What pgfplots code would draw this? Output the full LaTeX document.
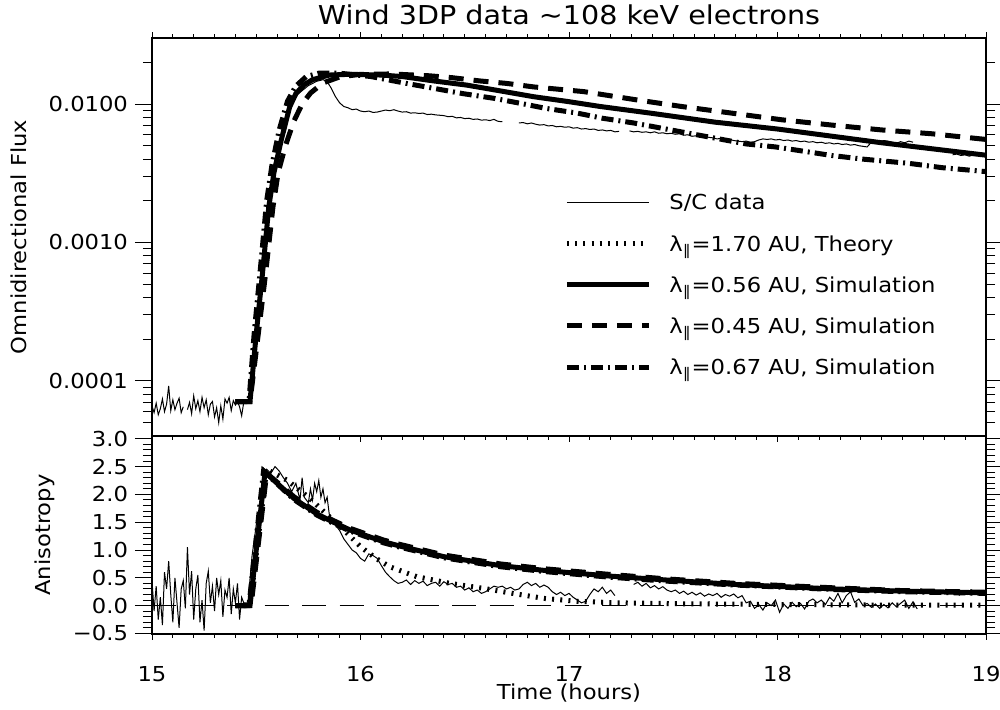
\documentclass[border=0pt]{standalone}
\usepackage{fontspec}
\setmainfont{DejaVu Sans}[FakeStretch=1.1]
\usepackage{pgfplots}
\usepackage{pgfplotstable}
\pgfplotsset{compat=1.18}

\newcommand{\lam}{λ\textsubscript{∥}}
\newcommand{\fs}{\fontsize{10.3}{12}\selectfont}

% ---------------- top panel: omnidirectional flux ----------------
\pgfplotstableread{
x y
15.00 6.6e-5
15.01 5.9e-5
15.02 6.9e-5
15.03 5.7e-5
15.04 6.3e-5
15.05 7.4e-5
15.06 6.0e-5
15.07 6.8e-5
15.08 9.2e-5
15.09 6.1e-5
15.10 7.3e-5
15.11 6.2e-5
15.12 6.9e-5
15.13 7.5e-5
15.14 5.9e-5
15.15 6.5e-5
15.16 nan
15.17 6.2e-5
15.18 7.0e-5
15.19 5.8e-5
15.20 7.8e-5
15.21 6.3e-5
15.22 7.2e-5
15.23 6.0e-5
15.24 7.6e-5
15.25 6.4e-5
15.26 7.3e-5
15.27 5.7e-5
15.28 6.8e-5
15.29 7.1e-5
15.30 5.5e-5
15.31 6.4e-5
15.32 5.0e-5
15.33 6.6e-5
15.34 5.3e-5
15.35 7.4e-5
15.36 6.9e-5
15.37 7.6e-5
15.38 6.1e-5
15.39 7.2e-5
15.40 6.7e-5
15.41 7.1e-5
15.42 6.5e-5
15.43 5.6e-5
15.44 7.0e-5
15.47 7.2e-5
15.50 2.3e-4
15.53 6.5e-4
15.56 1.9e-3
15.59 3.5e-3
15.62 5.8e-3
15.66 9.3e-3
15.70 1.18e-2
15.75 1.36e-2
15.79 1.46e-2
15.82 1.50e-2
15.84 1.45e-2
15.86 1.30e-2
15.88 1.13e-2
15.90 1.02e-2
15.92 9.6e-3
15.94 9.4e-3
15.96 9.1e-3
15.98 9.2e-3
16.00 8.9e-3
16.02 8.8e-3
16.04 8.9e-3
16.06 8.7e-3
16.08 8.75e-3
16.10 8.9e-3
16.12 9.05e-3
16.14 8.95e-3
16.16 9.1e-3
16.18 8.9e-3
16.20 8.75e-3
16.22 8.8e-3
16.24 8.6e-3
16.26 8.65e-3
16.28 8.55e-3
16.30 8.6e-3
16.32 8.4e-3
16.34 8.45e-3
16.36 8.35e-3
16.38 8.3e-3
16.40 8.25e-3
16.42 8.1e-3
16.44 8.15e-3
16.46 7.95e-3
16.48 8.0e-3
16.50 7.85e-3
16.52 7.9e-3
16.54 7.75e-3
16.56 7.8e-3
16.58 7.65e-3
16.60 7.7e-3
16.62 7.6e-3
16.64 7.75e-3
16.66 7.5e-3
16.68 7.45e-3
16.70 nan
16.76 7.3e-3
16.78 7.35e-3
16.80 7.2e-3
16.82 7.3e-3
16.84 7.15e-3
16.86 7.05e-3
16.88 7.1e-3
16.90 6.95e-3
16.92 7.0e-3
16.94 6.85e-3
16.96 6.9e-3
16.98 6.8e-3
17.00 6.85e-3
17.02 6.7e-3
17.04 6.75e-3
17.06 6.6e-3
17.08 6.65e-3
17.10 6.55e-3
17.12 6.6e-3
17.14 6.45e-3
17.16 6.5e-3
17.18 6.4e-3
17.20 6.45e-3
17.22 6.3e-3
17.24 6.35e-3
17.26 nan
17.29 6.4e-3
17.31 6.3e-3
17.33 6.35e-3
17.35 6.25e-3
17.37 6.3e-3
17.39 6.2e-3
17.41 6.3e-3
17.43 6.15e-3
17.45 6.2e-3
17.47 6.1e-3
17.49 6.15e-3
17.51 6.05e-3
17.53 6.1e-3
17.55 5.95e-3
17.57 6.0e-3
17.59 5.85e-3
17.61 5.9e-3
17.63 5.8e-3
17.65 5.85e-3
17.67 5.75e-3
17.69 5.7e-3
17.71 5.6e-3
17.73 5.65e-3
17.75 5.5e-3
17.77 5.55e-3
17.79 5.45e-3
17.81 5.4e-3
17.83 5.35e-3
17.85 5.4e-3
17.87 5.3e-3
17.89 5.35e-3
17.91 5.5e-3
17.93 5.6e-3
17.95 5.55e-3
17.97 5.6e-3
17.99 5.5e-3
18.01 5.55e-3
18.03 5.45e-3
18.05 5.5e-3
18.07 5.4e-3
18.09 5.45e-3
18.11 5.35e-3
18.13 5.4e-3
18.15 5.3e-3
18.17 5.35e-3
18.19 5.25e-3
18.21 5.3e-3
18.23 5.2e-3
18.25 5.25e-3
18.27 5.15e-3
18.29 5.2e-3
18.31 5.1e-3
18.33 5.15e-3
18.35 5.05e-3
18.37 5.1e-3
18.39 5.0e-3
18.41 4.95e-3
18.43 4.9e-3
18.45 5.3e-3
18.47 5.4e-3
18.49 5.35e-3
18.51 5.45e-3
18.53 5.4e-3
18.55 5.3e-3
18.57 5.2e-3
18.59 5.35e-3
18.61 5.25e-3
18.63 5.4e-3
18.65 5.3e-3
18.66 nan
18.84 4.3e-3
18.86 4.35e-3
18.88 4.25e-3
18.90 4.3e-3
18.92 4.2e-3
18.94 4.3e-3
18.96 4.25e-3
18.98 4.3e-3
}\datatop

\pgfplotstableread{
x y
15.40 7.1e-5
15.47 7.1e-5
15.50 2.2e-4
15.53 6.0e-4
15.56 1.8e-3
15.585 3.2e-3
15.62 5.5e-3
15.66 9.5e-3
15.69 1.19e-2
15.73 1.38e-2
15.77 1.50e-2
15.85 1.62e-2
15.95 1.64e-2
16.10 1.62e-2
16.20 1.58e-2
16.35 1.47e-2
16.51 1.37e-2
16.67 1.245e-2
16.83 1.13e-2
17.00 1.04e-2
17.15 9.6e-3
17.39 8.6e-3
17.70 7.4e-3
18.00 6.6e-3
18.50 5.25e-3
19.00 4.27e-3
}\simAtop

\pgfplotstableread{
x y
15.40 7.1e-5
15.47 7.1e-5
15.51 2.2e-4
15.545 6.0e-4
15.58 1.8e-3
15.605 3.2e-3
15.64 5.0e-3
15.68 7.5e-3
15.72 1.0e-2
15.76 1.2e-2
15.82 1.42e-2
15.90 1.57e-2
16.00 1.64e-2
16.15 1.65e-2
16.33 1.60e-2
16.44 1.55e-2
16.57 1.47e-2
16.70 1.41e-2
16.83 1.33e-2
17.07 1.23e-2
17.31 1.08e-2
17.54 9.6e-3
17.78 8.6e-3
18.02 7.7e-3
18.26 7.05e-3
18.50 6.5e-3
18.74 6.1e-3
19.00 5.55e-3
}\simBtop

\pgfplotstableread{
x y
15.40 7.1e-5
15.465 7.1e-5
15.49 2.2e-4
15.52 6.5e-4
15.55 2.0e-3
15.575 3.6e-3
15.61 6.5e-3
15.65 1.05e-2
15.69 1.35e-2
15.74 1.58e-2
15.80 1.67e-2
15.90 1.67e-2
16.05 1.58e-2
16.22 1.41e-2
16.35 1.30e-2
16.49 1.19e-2
16.64 1.10e-2
16.77 1.01e-2
16.89 9.3e-3
17.04 8.6e-3
17.16 7.9e-3
17.31 7.3e-3
17.60 6.05e-3
17.85 5.15e-3
17.99 4.9e-3
18.26 4.25e-3
18.41 4.0e-3
18.63 3.73e-3
18.79 3.47e-3
19.00 3.25e-3
}\simCtop

% ---------------- bottom panel: anisotropy ----------------
\pgfplotstableread{
x y
15.00 0.45
15.01 -0.10
15.02 0.35
15.03 -0.25
15.04 0.15
15.05 -0.35
15.06 0.60
15.07 0.30
15.08 0.80
15.09 0.20
15.10 -0.30
15.11 0.50
15.12 0.05
15.13 -0.40
15.14 0.30
15.15 0.45
15.16 -0.05
15.17 1.05
15.18 0.20
15.19 0.62
15.20 -0.25
15.21 0.30
15.22 0.55
15.23 -0.30
15.24 0.10
15.25 -0.45
15.26 0.40
15.27 0.62
15.28 0.05
15.29 0.35
15.30 -0.10
15.31 0.50
15.32 0.20
15.33 0.45
15.34 -0.20
15.35 0.28
15.36 0.15
15.37 0.50
15.38 -0.15
15.39 0.30
15.40 0.05
15.41 0.40
15.42 -0.25
15.43 0.15
15.44 0.05
15.46 0.05
15.48 0.90
15.50 1.45
15.52 1.75
15.55 2.45
15.57 2.38
15.59 2.50
15.61 2.42
15.63 2.30
15.65 2.20
15.67 2.05
15.69 2.20
15.71 1.90
15.72 2.30
15.73 1.95
15.75 1.85
15.76 2.10
15.77 1.90
15.78 2.20
15.79 2.05
15.80 2.25
15.81 1.95
15.82 2.10
15.83 1.85
15.84 1.95
15.85 1.65
15.86 1.55
15.88 1.45
15.90 1.35
15.92 1.20
15.94 1.10
15.96 1.00
15.98 0.95
16.00 0.85
16.02 0.80
16.04 0.93
16.06 0.90
16.08 0.85
16.10 0.72
16.12 0.60
16.14 0.52
16.16 0.45
16.18 0.40
16.20 0.42
16.22 0.46
16.24 0.38
16.26 0.45
16.28 0.40
16.30 0.44
16.32 0.36
16.34 0.40
16.36 0.42
16.38 0.35
16.40 0.43
16.42 0.38
16.44 0.40
16.46 0.33
16.48 0.35
16.50 0.28
16.52 0.32
16.54 0.25
16.56 0.28
16.58 0.22
16.60 0.25
16.62 0.30
16.64 0.35
16.66 0.33
16.68 0.35
16.70 0.30
16.72 0.33
16.74 0.28
16.76 0.30
16.78 0.38
16.80 0.42
16.82 0.36
16.84 0.40
16.86 0.33
16.88 0.37
16.90 0.33
16.92 0.25
16.94 0.20
16.96 0.24
16.98 0.18
17.00 0.22
17.02 0.15
17.04 0.10
17.06 0.05
17.08 0.08
17.10 0.20
17.12 0.30
17.14 0.25
17.16 0.33
17.18 0.22
17.20 0.28
17.22 0.18
17.24 nan
17.31 0.38
17.33 0.42
17.35 0.35
17.37 0.40
17.39 0.32
17.41 0.36
17.43 0.30
17.45 0.34
17.47 0.28
17.49 0.25
17.51 0.28
17.53 0.22
17.55 0.26
17.57 0.20
17.59 0.24
17.61 0.19
17.63 0.23
17.65 0.17
17.67 0.21
17.69 0.18
17.71 0.22
17.73 0.15
17.75 0.20
17.77 0.17
17.79 0.21
17.81 0.14
17.83 0.18
17.85 0.05
17.87 0.08
17.89 -0.05
17.91 0.02
17.93 -0.08
17.95 0.05
17.97 0.00
17.99 0.10
18.01 -0.12
18.03 0.03
18.05 -0.05
18.07 0.06
18.09 -0.02
18.11 0.04
18.13 -0.06
18.15 0.08
18.17 0.12
18.19 0.05
18.21 0.10
18.23 0.02
18.25 0.15
18.27 0.08
18.29 0.22
18.31 0.05
18.33 0.18
18.35 0.25
18.37 0.06
18.39 0.12
18.41 0.00
18.43 0.04
18.45 -0.03
18.47 0.03
18.49 -0.05
18.51 0.02
18.53 -0.04
18.55 0.05
18.57 -0.02
18.59 0.04
18.61 0.10
18.63 -0.05
18.65 0.07
18.67 -0.06
18.68 nan
18.87 0.18
18.89 0.26
18.91 0.20
18.93 0.28
18.95 0.22
18.97 0.25
18.99 0.20
}\databot

\pgfplotstableread{
x y
15.40 0
15.47 0
15.55 2.45
15.65 2.25
15.75 1.95
15.85 1.60
15.92 1.36
16.00 1.06
16.07 0.86
16.14 0.70
16.27 0.52
16.43 0.40
16.59 0.31
16.73 0.22
16.88 0.13
17.03 0.08
17.23 0.05
17.50 0.035
18.00 0.02
18.50 0.01
19.00 0.01
}\theorybot

\pgfplotstableread{
x y
15.40 0
15.47 0
15.542 2.40
15.60 2.20
15.68 1.93
15.79 1.65
15.87 1.50
15.95 1.36
16.11 1.15
16.19 1.07
16.40 0.88
16.67 0.72
16.89 0.63
17.20 0.53
17.47 0.46
17.80 0.38
18.27 0.30
18.60 0.26
19.00 0.23
}\simAbot

\pgfplotstableread{
x y
15.40 0
15.475 0
15.55 2.38
15.60 2.22
15.68 1.96
15.79 1.68
15.87 1.53
15.95 1.39
16.11 1.18
16.19 1.10
16.40 0.91
16.67 0.75
16.89 0.66
17.20 0.56
17.47 0.48
17.80 0.40
18.27 0.32
18.60 0.27
19.00 0.24
}\simBbot

\pgfplotstableread{
x y
15.40 0
15.465 0
15.535 2.42
15.60 2.19
15.68 1.91
15.79 1.63
15.87 1.48
15.95 1.34
16.11 1.13
16.19 1.05
16.40 0.86
16.67 0.70
16.89 0.61
17.20 0.51
17.47 0.44
17.80 0.37
18.27 0.29
18.60 0.25
19.00 0.22
}\simCbot

\begin{document}
\begin{tikzpicture}
\path[use as bounding box] (0,0) rectangle (500pt,355pt);
\pgfplotsset{
  panel/.style={
    scale only axis, width=417pt, xmin=15, xmax=19,
    tick align=outside,
    major tick length=8.5pt, minor tick length=4.5pt,
    every tick/.append style={line width=0.5pt, black},
    every major x tick/.append style={/pgfplots/major tick length=3pt},
    every minor x tick/.append style={/pgfplots/minor tick length=2pt},
    xtick={15,16,17,18,19}, minor x tick num=9,
    axis line style={line width=0.6pt},
    tick label style={font=\fs},
    label style={font=\fs},
    unbounded coords=jump,
  },
  sim56/.style={line width=2.5pt},
  sim45/.style={line width=2.5pt, dash pattern=on 7.5pt off 5pt},
  sim67/.style={line width=2.5pt, dash pattern=on 6pt off 2.5pt on 1pt off 2.5pt},
  theory/.style={line width=2.5pt, dash pattern=on 1pt off 3.1pt},
  scdata/.style={line width=0.5pt},
}
\begin{axis}[panel, at={(76pt,137pt)}, anchor=south west, height=199pt,
  ymode=log, ymin=4e-5, ymax=3e-2,
  ytick={1e-4,1e-3,1e-2}, yticklabels={0.0001,0.0010,0.0100},
  minor ytick={5e-5,6e-5,7e-5,8e-5,9e-5,2e-4,3e-4,4e-4,5e-4,6e-4,7e-4,8e-4,9e-4,2e-3,3e-3,4e-3,5e-3,6e-3,7e-3,8e-3,9e-3,2e-2},
  xticklabels={},
  ylabel={Omnidirectional Flux},
  ylabel style={at={(axis description cs:-0.1595,0.5)}, anchor=center},
  title={Wind 3DP data ∼108 keV electrons},
  title style={font=\fontsize{13}{15}\selectfont, at={(axis description cs:0.5,1)}, anchor=base, yshift=0.5pt},
  legend cell align=left,
  legend style={at={(axis description cs:0.494,0.608)}, anchor=north west,
    draw=none, fill=none, font=\fs, inner sep=0pt,
    row sep=12.7pt, column sep=9pt,
    nodes={inner sep=0pt, text height=7.7pt, text depth=0.2pt}},
  legend image code/.code={\draw[#1] (0pt,0pt) -- (41pt,0pt);},
]
\addplot[scdata] table[x=x,y=y] {\datatop};
\addlegendentry{S/C data}
\addlegendimage{theory}
\addlegendentry{\lam=1.70 AU, Theory}
\addplot[sim56] table[x=x,y=y] {\simAtop};
\addlegendentry{\lam=0.56 AU, Simulation}
\addplot[sim45] table[x=x,y=y] {\simBtop};
\addlegendentry{\lam=0.45 AU, Simulation}
\addplot[sim67] table[x=x,y=y] {\simCtop};
\addlegendentry{\lam=0.67 AU, Simulation}
\end{axis}

\begin{axis}[panel, at={(76pt,38pt)}, anchor=south west, height=99pt,
  ymin=-0.51, ymax=3.05,
  ytick={-0.5,0,0.5,1,1.5,2,2.5,3},
  yticklabels={−0.5,0.0,0.5,1.0,1.5,2.0,2.5,3.0},
  minor y tick num=4,
  xticklabels={15,16,17,18,19},
  xticklabel style={inner sep=0pt, yshift=-7.47pt},
  xtick pos=bottom,
  xlabel={Time (hours)},
  xlabel style={at={(axis description cs:0.5,-0.298)}, anchor=center, inner sep=0pt},
  ylabel={Anisotropy},
  ylabel style={at={(axis description cs:-0.1283,0.5)}, anchor=center},
]
\addplot[line width=0.5pt, dash pattern=on 12pt off 6.75pt] coordinates {(15,0) (19,0)};
\addplot[scdata] table[x=x,y=y] {\databot};
\addplot[theory] table[x=x,y=y] {\theorybot};
\addplot[sim56] table[x=x,y=y] {\simAbot};
\addplot[sim45] table[x=x,y=y] {\simBbot};
\addplot[sim67] table[x=x,y=y] {\simCbot};
\end{axis}
\end{tikzpicture}
\end{document}
